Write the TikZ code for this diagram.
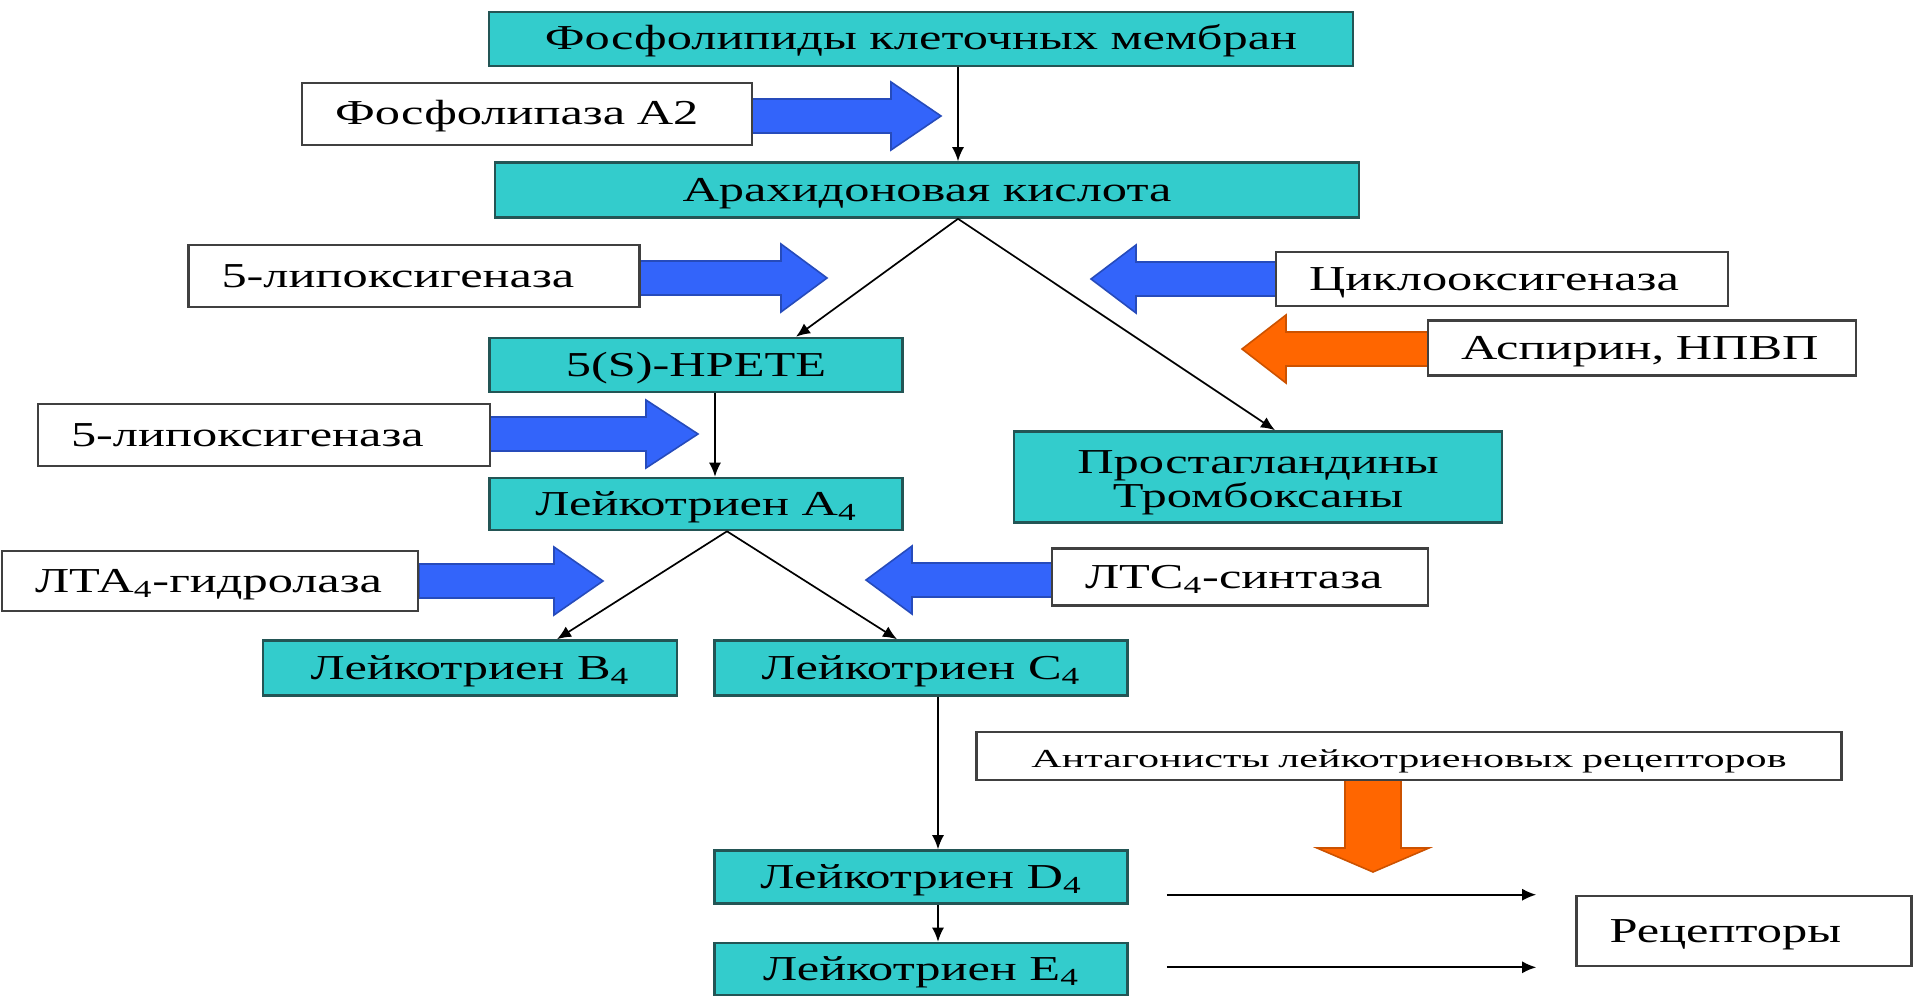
\documentclass[tikz,border=0pt]{standalone}
\usepackage{fontspec}
\setmainfont[FakeStretch=1.44]{Liberation Serif}
\newfontfamily\antagfont[FakeStretch=1.62]{Liberation Serif}
\usetikzlibrary{arrows.meta}

\definecolor{tealbox}{RGB}{51,204,204}
\definecolor{tealedge}{RGB}{35,85,85}
\definecolor{arrowblue}{RGB}{51,100,250}
\definecolor{arroworange}{RGB}{255,102,0}

\tikzset{every picture/.style={line width=0.75pt}}
\tikzset{
    substance/.style={draw=tealedge, fill=tealbox, line width=1.3pt, inner sep=0pt, align=center, text height=1.15em, text depth=0.05em, font=\fontsize{17.5}{18}\selectfont},
    enzyme/.style={draw=black!75, fill=white, line width=1.3pt, inner xsep=16.5pt, inner ysep=0pt, align=left, text height=1.15em, text depth=0.05em, font=\fontsize{17.5}{18}\selectfont},
    conn/.style={-{Latex[length=7pt,width=6pt]}, line width=0.85pt},
    blockblue/.style={fill=arrowblue, draw=arrowblue!75!black, line width=0.8pt},
    blockorange/.style={fill=arroworange, draw=arroworange!80!black, line width=0.8pt}
}
% tail x, head base x, tip x, y
\newcommand{\blockarrow}[5]{\filldraw[#1] (#2,#5-17) -- (#3,#5-17) -- (#3,#5-34) -- (#4,#5) -- (#3,#5+34) -- (#3,#5+17) -- (#2,#5+17) -- cycle;}

\begin{document}
\begin{tikzpicture}[x=0.5pt, y=-0.5pt]
    \useasboundingbox (0,0) rectangle (1915,995);

    % enzyme arrows
    \blockarrow{blockblue}{752}{891}{941}{116}
    \blockarrow{blockblue}{640}{781}{827}{278}
    \blockarrow{blockblue}{1276}{1136}{1091}{279}
    \blockarrow{blockorange}{1428}{1286}{1242}{349}
    \blockarrow{blockblue}{490}{646}{698}{434}
    \blockarrow{blockblue}{419}{554}{603}{581}
    \blockarrow{blockblue}{1052}{912}{866}{580}
    \filldraw[blockorange] (1345,780) -- (1401,780) -- (1401,848) -- (1429,848) -- (1373,872) -- (1317,848) -- (1345,848) -- cycle;

    % substances
    \node[substance, minimum width=432pt, minimum height=27pt] (phospho) at (921,39) {Фосфолипиды клеточных мембран};
    \node[substance, minimum width=432pt, minimum height=27.5pt] (arach) at (927,190) {Арахидоновая кислота};
    \node[substance, minimum width=206.5pt, minimum height=27pt] (hpete) at (696,365) {5(S)-HPETE};
    \node[substance, minimum width=244pt, minimum height=45.5pt, text height=, text depth=, font=\fontsize{17.5}{17}\selectfont] (pg) at (1258,477) {\rule{0pt}{17pt}Простагландины\\Тромбоксаны};
    \node[substance, minimum width=206.5pt, minimum height=26pt] (a4) at (696,504) {Лейкотриен A\textsubscript{4}};
    \node[substance, minimum width=207pt, minimum height=27.5pt] (b4) at (470,668) {Лейкотриен B\textsubscript{4}};
    \node[substance, minimum width=206.5pt, minimum height=27.5pt] (c4) at (921,668) {Лейкотриен C\textsubscript{4}};
    \node[substance, minimum width=206.5pt, minimum height=26.5pt] (d4) at (921,877) {Лейкотриен D\textsubscript{4}};
    \node[substance, minimum width=206.5pt, minimum height=26pt] (e4) at (921,969) {Лейкотриен E\textsubscript{4}};

    % enzymes and drugs
    \node[enzyme, text width=192pt, minimum height=31pt] (pla2) at (527,114) {Фосфолипаза А2};
    \node[enzyme, text width=192.5pt, minimum height=31pt] (lox1) at (414,276) {5-липоксигеназа};
    \node[enzyme, text width=193pt, minimum height=27pt] (cox) at (1502,279) {Циклооксигеназа};
    \node[enzyme, text width=181pt, minimum height=27.5pt] (asp) at (1642,348) {Аспирин, НПВП};
    \node[enzyme, text width=193pt, minimum height=31pt] (lox2) at (264,435) {5-липоксигеназа};
    \node[enzyme, text width=175pt, minimum height=30pt] (lta4h) at (210,581) {ЛТА\textsubscript{4}-гидролаза};
    \node[enzyme, text width=155pt, minimum height=28.5pt] (ltc4s) at (1240,577) {ЛТС\textsubscript{4}-синтаза};
    \node[enzyme, text width=399.5pt, minimum height=24pt, align=center, font=\antagfont\fontsize{13}{14}\selectfont] (antag) at (1409,756) {Антагонисты лейкотриеновых рецепторов};
    \node[enzyme, text width=134.5pt, minimum height=35pt] (rec) at (1744,931) {Рецепторы};

    % pathway
    \draw[conn] ([xshift=18.5pt]phospho.south) -- ([xshift=18.5pt]phospho.south |- arach.north);
    \draw[conn] ([xshift=15.5pt]arach.south) -- ([xshift=50pt]hpete.north);
    \draw[conn] ([xshift=15.5pt]arach.south) -- ([xshift=8.5pt]pg.north);
    \draw[conn] ([xshift=9.5pt]hpete.south) -- ([xshift=9.5pt]a4.north);
    \draw[conn] ([xshift=15.5pt]a4.south) -- ([xshift=43.5pt]b4.north);
    \draw[conn] ([xshift=15.5pt]a4.south) -- ([xshift=-12pt]c4.north);
    \draw[conn] ([xshift=8.5pt]c4.south) -- ([xshift=8.5pt]d4.north);
    \draw[conn] ([xshift=8.5pt]d4.south) -- ([xshift=8.5pt]e4.north);
    \draw[conn] ([xshift=19pt]d4.east |- rec.north west) -- ([xshift=-19.5pt]rec.north west);
    \draw[conn] ([xshift=19pt]e4.east |- rec.south west) -- ([xshift=-19.5pt]rec.south west);
\end{tikzpicture}
\end{document}
